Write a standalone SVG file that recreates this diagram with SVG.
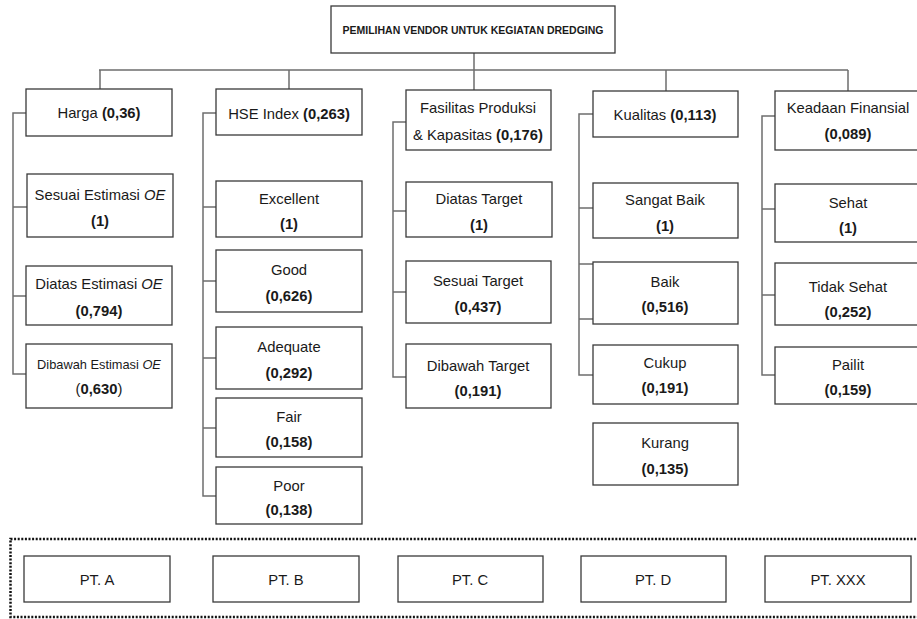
<svg xmlns="http://www.w3.org/2000/svg" width="917" height="619" viewBox="0 0 917 619">
<style>
.box{fill:#fff;stroke:#3a3a3a;stroke-width:1.3}
.ln{fill:none;stroke:#6e6e6e;stroke-width:1.5}
text{font-family:"Liberation Sans",Arial,sans-serif;font-size:14.8px;fill:#1a1a1a;text-anchor:middle}
.b{font-weight:bold}
.i{font-style:italic}
.t{font-weight:bold;font-size:11px}
</style>
<rect width="917" height="619" fill="#fff"/>
<g id="connectors">
<path class="ln" d="M474 53V70M99 70H848M100 70V89M289 70V89M474 70V90M666 70V91M848 70V91"/>
<path class="ln" d="M26 113H13V374H26M13 207H27M13 296H26"/>
<path class="ln" d="M216 113H203V496H216M203 207H216M203 281H216M203 358H216M203 428H216"/>
<path class="ln" d="M406 122H393V377H406M393 211H406M393 292H406"/>
<path class="ln" d="M593 114H579V375H593M579 208H593M579 264H593M579 319H593"/>
<path class="ln" d="M775 116H762V375H775M762 209H775M762 295H775"/>
</g>
<g id="root"><rect class="box" x="331" y="6" width="284" height="47"/><text class="t" x="473" y="34" textLength="261" lengthAdjust="spacingAndGlyphs">PEMILIHAN VENDOR UNTUK KEGIATAN DREDGING</text></g>

<g id="harga"><rect class="box" x="26" y="89" width="146" height="47"/><text x="99" y="118">Harga <tspan class="b">(0,36)</tspan></text></g>
<g id="sesuai-oe"><rect class="box" x="27" y="174" width="146" height="63"/><text x="100" y="200">Sesuai Estimasi <tspan class="i">OE</tspan></text><text class="b" x="100" y="226">(1)</text></g>
<g id="diatas-oe"><rect class="box" x="26" y="266" width="146" height="59"/><text x="99" y="289">Diatas Estimasi <tspan class="i">OE</tspan></text><text class="b" x="99" y="316">(0,794)</text></g>
<g id="dibawah-oe"><rect class="box" x="26" y="344" width="146" height="64"/><text x="99" y="369" style="font-size:12.8px">Dibawah Estimasi <tspan class="i">OE</tspan></text><text x="99" y="394">(<tspan class="b">0,630</tspan>)</text></g>

<g id="hse"><rect class="box" x="216" y="89" width="146" height="46"/><text x="289" y="119">HSE Index <tspan class="b">(0,263)</tspan></text></g>
<g id="excellent"><rect class="box" x="216" y="181" width="146" height="56"/><text x="289" y="204">Excellent</text><text class="b" x="289" y="229">(1)</text></g>
<g id="good"><rect class="box" x="216" y="250" width="146" height="62"/><text x="289" y="275">Good</text><text class="b" x="289" y="301">(0,626)</text></g>
<g id="adequate"><rect class="box" x="216" y="327" width="146" height="62"/><text x="289" y="352">Adequate</text><text class="b" x="289" y="378">(0,292)</text></g>
<g id="fair"><rect class="box" x="216" y="398" width="146" height="59"/><text x="289" y="422">Fair</text><text class="b" x="289" y="447">(0,158)</text></g>
<g id="poor"><rect class="box" x="216" y="467" width="146" height="57"/><text x="289" y="491">Poor</text><text class="b" x="289" y="515">(0,138)</text></g>

<g id="fasilitas"><rect class="box" x="406" y="90" width="145" height="60"/><text x="478" y="113">Fasilitas Produksi</text><text x="478" y="140">&amp; Kapasitas <tspan class="b">(0,176)</tspan></text></g>
<g id="diatas-target"><rect class="box" x="406" y="182" width="146" height="55"/><text x="479" y="204">Diatas Target</text><text class="b" x="479" y="230">(1)</text></g>
<g id="sesuai-target"><rect class="box" x="406" y="261" width="145" height="62"/><text x="478" y="286">Sesuai Target</text><text class="b" x="478" y="312">(0,437)</text></g>
<g id="dibawah-target"><rect class="box" x="406" y="344" width="145" height="64"/><text x="478" y="371">Dibawah Target</text><text class="b" x="478" y="396">(0,191)</text></g>

<g id="kualitas"><rect class="box" x="593" y="91" width="145" height="46"/><text x="665" y="120">Kualitas <tspan class="b">(0,113)</tspan></text></g>
<g id="sangat-baik"><rect class="box" x="593" y="183" width="145" height="55"/><text x="665" y="205">Sangat Baik</text><text class="b" x="665" y="231">(1)</text></g>
<g id="baik"><rect class="box" x="593" y="262" width="145" height="62"/><text x="665" y="287">Baik</text><text class="b" x="665" y="312">(0,516)</text></g>
<g id="cukup"><rect class="box" x="593" y="345" width="145" height="59"/><text x="665" y="368">Cukup</text><text class="b" x="665" y="393">(0,191)</text></g>
<g id="kurang"><rect class="box" x="593" y="423" width="145" height="62"/><text x="665" y="448">Kurang</text><text class="b" x="665" y="474">(0,135)</text></g>

<g id="keadaan"><rect class="box" x="775" y="91" width="146" height="59"/><text x="848" y="113">Keadaan Finansial</text><text class="b" x="848" y="139">(0,089)</text></g>
<g id="sehat"><rect class="box" x="775" y="184" width="146" height="58"/><text x="848" y="208">Sehat</text><text class="b" x="848" y="233">(1)</text></g>
<g id="tidak-sehat"><rect class="box" x="775" y="263" width="146" height="62"/><text x="848" y="292">Tidak Sehat</text><text class="b" x="848" y="317">(0,252)</text></g>
<g id="pailit"><rect class="box" x="775" y="347" width="146" height="57"/><text x="848" y="370">Pailit</text><text class="b" x="848" y="395">(0,159)</text></g>

<g id="alternatives">
<rect x="10.5" y="539" width="912" height="78" fill="none" stroke="#111" stroke-width="2.5" stroke-dasharray="2 1.6"/>
<g id="pt-a"><rect class="box" x="24" y="556" width="146" height="46"/><text x="97" y="585">PT. A</text></g>
<g id="pt-b"><rect class="box" x="213" y="556" width="146" height="46"/><text x="286" y="585">PT. B</text></g>
<g id="pt-c"><rect class="box" x="398" y="556" width="145" height="46"/><text x="470" y="585">PT. C</text></g>
<g id="pt-d"><rect class="box" x="581" y="556" width="145" height="46"/><text x="653" y="585">PT. D</text></g>
<g id="pt-xxx"><rect class="box" x="765" y="556" width="146" height="46"/><text x="838" y="585">PT. XXX</text></g>
</g>
</svg>
